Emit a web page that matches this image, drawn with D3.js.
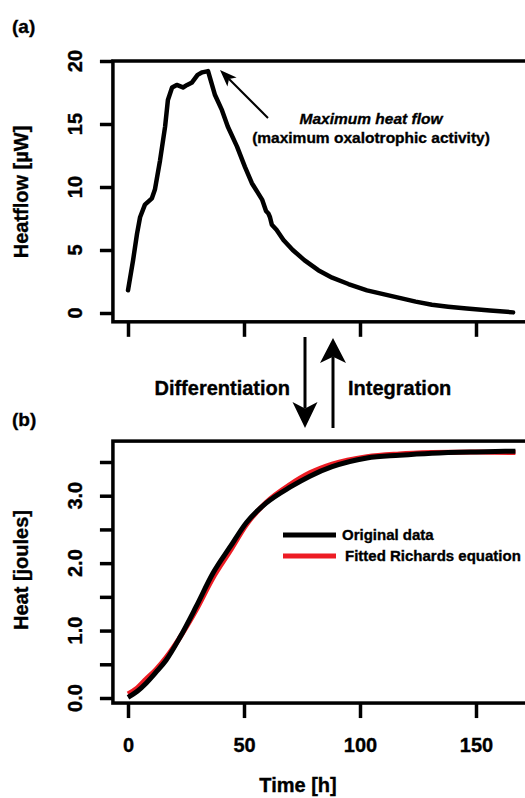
<!DOCTYPE html>
<html>
<head>
<meta charset="utf-8">
<script src="https://cdn.jsdelivr.net/npm/d3@7"></script>
<style>
  body { margin: 0; background: #fff; }
  svg text { font-family: "Liberation Sans", Arial, sans-serif; font-weight: bold; fill: #000; stroke: #000; stroke-width: 0.35px; }
</style>
</head>
<body>
<div id="chart"></div>
<script>
// (a) heat flow
let timeA = [0, 2.2, 3.9, 5.2, 7.3, 10.3, 11.6, 13.8, 16, 17.2, 19, 21, 23.7, 25.5, 27.6, 30, 32, 34.5, 37.5, 40.5, 43, 47, 50.4, 53.4, 57.8, 59.5, 60.5, 61.2, 62, 64, 67, 71, 76, 82, 88, 95, 103, 110, 117, 124, 131, 138, 146, 156, 166];
let heatflow = [1.8, 4.2, 6.3, 7.6, 8.6, 9.1, 9.8, 12.1, 14.8, 16.9, 17.9, 18.1, 17.9, 18.1, 18.3, 18.9, 19.1, 19.2, 17.3, 16.1, 14.8, 13.2, 11.6, 10.3, 9.0, 8.1, 7.9, 7.6, 7.0, 6.6, 5.8, 5.0, 4.2, 3.4, 2.8, 2.3, 1.8, 1.5, 1.2, 0.9, 0.65, 0.5, 0.35, 0.2, 0.05];

// (b) cumulative heat
let timeB = [0, 4, 7.8, 12, 16.4, 22.4, 29.3, 36.6, 44, 51, 59.5, 70, 78.4, 88, 103, 117, 131, 150, 167];
let heatOriginal = [0.01, 0.1, 0.22, 0.38, 0.56, 0.9, 1.35, 1.85, 2.24, 2.6, 2.89, 3.13, 3.29, 3.43, 3.56, 3.6, 3.63, 3.65, 3.66];
let heatFitted = [0.06, 0.15, 0.28, 0.42, 0.6, 0.9, 1.3, 1.78, 2.18, 2.57, 2.9, 3.17, 3.34, 3.47, 3.58, 3.62, 3.64, 3.65, 3.64];

let xTicks = [0, 50, 100, 150];
let yTicksA = [0, 5, 10, 15, 20];
let yTicksB = [0, 0.5, 1, 1.5, 2, 2.5, 3, 3.5];
let yLabelsB = [0, 1, 2, 3];

let width = 525, height = 798;
let red = "#ed1c24";

let svg = d3.select("#chart")
            .append("svg")
            .attr("width", width)
            .attr("height", height)

svg.append("rect").attr("width", width).attr("height", height).attr("fill", "#fff")

// shared time scale
let xscale = d3.scaleLinear()
               .domain([0, 150])
               .range([128, 476])
let xLim = [-6.5, 185];

let yA = d3.scaleLinear().domain([0, 20]).range([313, 61])
let yLimA = [-0.7, 20];
let yB = d3.scaleLinear().domain([0, 3.5]).range([698, 462])
let yLimB = [-0.075, 3.81];

function frame(y, ylim) {
  svg.append("rect")
     .attr("x", xscale(xLim[0]))
     .attr("y", y(ylim[1]))
     .attr("width", xscale(xLim[1]) - xscale(xLim[0]))
     .attr("height", y(ylim[0]) - y(ylim[1]))
     .attr("fill", "none")
     .attr("stroke", "#000")
     .attr("stroke-width", 3.5)
}

function yAxis(y, ticks) {
  let g = svg.append("g")
             .attr("transform", `translate(${xscale(xLim[0])},0)`)
             .call(d3.axisLeft(y).tickValues(ticks).tickSize(13).tickFormat(""))
  g.select(".domain").remove()
  g.selectAll("line").attr("stroke-width", 3.5)
}

function xAxis(y, ylim, labels) {
  let g = svg.append("g")
             .attr("transform", `translate(0,${y(ylim[0])})`)
             .call(d3.axisBottom(xscale).tickValues(xTicks).tickSize(15).tickPadding(20)
                     .tickFormat(labels ? d3.format("d") : ""))
  g.select(".domain").remove()
  g.selectAll("line").attr("stroke-width", 3.5)
  g.selectAll("text").attr("font-size", 20).attr("font-family", null).attr("fill", null)
}

// ---- panel (a)
frame(yA, yLimA)
yAxis(yA, yTicksA)
xAxis(yA, yLimA, false)

svg.selectAll(".ylabA")
   .data(yTicksA)
   .enter()
   .append("text")
   .attr("transform", d => `translate(82,${yA(d)}) rotate(-90)`)
   .attr("text-anchor", "middle")
   .attr("font-size", 20)
   .text(d => d)

let lineA = d3.line()
              .x(d => xscale(d[0]))
              .y(d => yA(d[1]))

svg.append("path")
   .datum(d3.zip(timeA, heatflow))
   .attr("d", lineA)
   .attr("fill", "none")
   .attr("stroke", "#000")
   .attr("stroke-width", 4.5)
   .attr("stroke-linejoin", "round")
   .attr("stroke-linecap", "round")

svg.append("text")
   .attr("transform", "translate(28,192) rotate(-90)")
   .attr("text-anchor", "middle")
   .attr("font-size", 20)
   .text("Heatflow [µW]")

svg.append("text").attr("x", 12).attr("y", 33).attr("font-size", 19).text("(a)")

// annotation
function arrow(x1, y1, x2, y2, len, half, lw) {
  let a = Math.atan2(y2 - y1, x2 - x1);
  let ux = Math.cos(a), uy = Math.sin(a);
  let bx = x2 - ux * len, by = y2 - uy * len;
  let nx = x2 - ux * len * 0.75, ny = y2 - uy * len * 0.75;
  svg.append("line")
     .attr("x1", x1).attr("y1", y1)
     .attr("x2", nx).attr("y2", ny)
     .attr("stroke", "#000").attr("stroke-width", lw)
  svg.append("path")
     .attr("d", `M${x2},${y2} L${bx - uy * half},${by + ux * half} L${nx},${ny} L${bx + uy * half},${by - ux * half} Z`)
     .attr("fill", "#000")
}

arrow(268, 118, 220, 70, 17, 6.5, 2)

svg.append("text")
   .attr("x", 371).attr("y", 124)
   .attr("text-anchor", "middle")
   .attr("font-size", 15.5)
   .attr("font-style", "italic")
   .text("Maximum heat flow")

svg.append("text")
   .attr("x", 371).attr("y", 143)
   .attr("text-anchor", "middle")
   .attr("font-size", 15.5)
   .text("(maximum oxalotrophic activity)")

// ---- between the panels
arrow(305, 337, 305, 428, 26, 12.5, 3)
arrow(333, 428, 333, 338, 25, 13, 3)

svg.append("text").attr("x", 290).attr("y", 395).attr("text-anchor", "end").attr("font-size", 20).text("Differentiation")
svg.append("text").attr("x", 348).attr("y", 395).attr("font-size", 20).text("Integration")

svg.append("text").attr("x", 12).attr("y", 426).attr("font-size", 19).text("(b)")

// ---- panel (b)
frame(yB, yLimB)
yAxis(yB, yTicksB)
xAxis(yB, yLimB, true)

svg.selectAll(".ylabB")
   .data(yLabelsB)
   .enter()
   .append("text")
   .attr("transform", d => `translate(82,${yB(d)}) rotate(-90)`)
   .attr("text-anchor", "middle")
   .attr("font-size", 20)
   .text(d => d3.format(".1f")(d))

let lineB = d3.line()
              .x(d => xscale(d[0]))
              .y(d => yB(d[1]))
              .curve(d3.curveMonotoneX)

svg.append("path")
   .datum(d3.zip(timeB, heatFitted))
   .attr("d", lineB)
   .attr("fill", "none")
   .attr("stroke", red)
   .attr("stroke-width", 5)

svg.append("path")
   .datum(d3.zip(timeB, heatOriginal))
   .attr("d", lineB)
   .attr("fill", "none")
   .attr("stroke", "#000")
   .attr("stroke-width", 5)

svg.append("text")
   .attr("transform", "translate(28,570) rotate(-90)")
   .attr("text-anchor", "middle")
   .attr("font-size", 20)
   .text("Heat [joules]")

svg.append("text")
   .attr("x", 298).attr("y", 792)
   .attr("text-anchor", "middle")
   .attr("font-size", 20)
   .text("Time [h]")

// legend
let legend = [
  {label: "Original data", color: "#000", y: 535, tx: 342, ty: 540},
  {label: "Fitted Richards equation", color: red, y: 556, tx: 345, ty: 561}
];
legend.forEach(d => {
  svg.append("line")
     .attr("x1", 283).attr("x2", 336)
     .attr("y1", d.y).attr("y2", d.y)
     .attr("stroke", d.color).attr("stroke-width", 5)
  svg.append("text")
     .attr("x", d.tx).attr("y", d.ty)
     .attr("font-size", 15)
     .text(d.label)
})
</script>
</body>
</html>
